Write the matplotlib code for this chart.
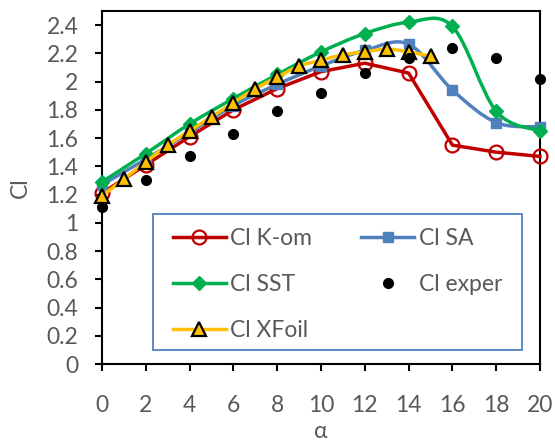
import numpy as np
import matplotlib
matplotlib.use('Agg')
import matplotlib.pyplot as plt
from matplotlib.path import Path
from matplotlib.patches import PathPatch, Rectangle
from matplotlib.lines import Line2D

plt.rcParams['font.family'] = ['Lato', 'DejaVu Sans']

# lift coefficient vs angle of attack
alpha = [0, 2, 4, 6, 8, 10, 12, 14, 16, 18, 20]
cl_kom = [1.21, 1.41, 1.61, 1.80, 1.95, 2.07, 2.13, 2.06, 1.55, 1.50, 1.47]
cl_sa = [1.27, 1.45, 1.64, 1.83, 1.98, 2.11, 2.22, 2.265, 1.94, 1.71, 1.68]
cl_sst = [1.29, 1.49, 1.70, 1.88, 2.05, 2.21, 2.34, 2.42, 2.39, 1.79, 1.65]
cl_exp = [1.11, 1.30, 1.47, 1.63, 1.79, 1.92, 2.06, 2.17, 2.24, 2.17, 2.02]

alpha_xf = list(range(0, 16))
cl_xfoil = [1.19, 1.31, 1.43, 1.55, 1.65, 1.75, 1.85, 1.95, 2.03, 2.11, 2.15,
            2.19, 2.21, 2.23, 2.21, 2.18]

grey = '#595959'


def smooth_path(x, y):
    # cubic bezier through every point, like a spreadsheet "smoothed line"
    x = np.asarray(x, float)
    y = np.asarray(y, float)
    pts = np.column_stack([x, y])
    n = len(pts)
    verts = [pts[0]]
    codes = [Path.MOVETO]
    for i in range(n - 1):
        p0 = pts[i - 1] if i > 0 else pts[i]
        p1 = pts[i]
        p2 = pts[i + 1]
        p3 = pts[i + 2] if i + 2 < n else pts[i + 1]
        c1 = p1 + (p2 - p0) / 6.0
        c2 = p2 - (p3 - p1) / 6.0
        verts += [c1, c2, p2]
        codes += [Path.CURVE4] * 3
    return Path(verts, codes)


fig = plt.figure(figsize=(5.55, 4.43), dpi=100)
ax = fig.add_axes([0.1838, 0.1783, 0.7892, 0.797])

lw = 2.5
series = [
    (alpha, cl_kom, '#C00000', False, dict(marker='o', markersize=10, markerfacecolor='none',
                                           markeredgecolor='#C00000', markeredgewidth=1.6), 'Cl K-om'),
    (alpha, cl_sa, '#4F81BD', True, dict(marker='s', markersize=7.5, markerfacecolor='#4F81BD',
                                         markeredgecolor='#4F81BD'), 'Cl SA'),
    (alpha, cl_sst, '#00B050', True, dict(marker='D', markersize=7.5, markerfacecolor='#00B050',
                                          markeredgecolor='#00B050'), 'Cl SST'),
    (alpha_xf, cl_xfoil, '#FFC000', True, dict(marker='^', markersize=10.5, markerfacecolor='#FFC000',
                                               markeredgecolor='black', markeredgewidth=1.6), 'Cl XFoil'),
]

handles = {}
z = 3
for xs, ys, col, smooth, mk, lab in series:
    if smooth:
        patch = PathPatch(smooth_path(xs, ys), facecolor='none', edgecolor=col, lw=lw,
                          zorder=z, capstyle='round', joinstyle='round')
        ax.add_patch(patch)
        ax.plot(xs, ys, linestyle='none', zorder=z + 0.5, clip_on=False, **mk)
    else:
        ax.plot(xs, ys, color=col, lw=lw, zorder=z, solid_joinstyle='round',
                clip_on=False, **mk)
    handles[lab] = Line2D([], [], color=col, lw=lw, **mk)
    z += 1

ax.plot(alpha, cl_exp, linestyle='none', marker='o', markersize=7, color='black',
        zorder=z, clip_on=False)
handles['Cl exper'] = Line2D([], [], linestyle='none', marker='o', markersize=7, color='black')

ax.set_xlim(0, 20)
ax.set_ylim(0, 2.5)
ax.set_xticks(np.arange(0, 21, 2))
yt = np.arange(0, 2.41, 0.2)
ax.set_yticks(yt)
ax.set_yticklabels(['%g' % round(v, 1) for v in yt])

for spine in ax.spines.values():
    spine.set_color('black')
    spine.set_linewidth(1.5)
ax.tick_params(direction='out', length=5, width=1.5, color='black',
               labelcolor=grey, labelsize=16.5)
ax.tick_params(axis='x', pad=17)
ax.tick_params(axis='y', pad=12)

ax.set_xlabel('α', fontsize=16.5, color=grey, labelpad=4)
ax.set_ylabel('Cl', fontsize=16.5, color=grey, labelpad=11)

# legend box drawn separately so its padding can differ from the entry spacing
ax.add_patch(Rectangle((0.1164, 0.040), 0.8426, 0.385, transform=ax.transAxes,
                       facecolor='white', edgecolor='#4F81BD', lw=1.3, zorder=2))

order = ['Cl K-om', 'Cl SST', 'Cl XFoil', 'Cl SA', 'Cl exper']
leg = ax.legend([handles[k] for k in order], order, ncol=2, loc='upper left',
                bbox_to_anchor=(0.162, 0.386, 0.751, 0.0), mode='expand',
                borderaxespad=0, borderpad=0, frameon=False, fontsize=16.5,
                labelcolor=grey, handlelength=2.3, handletextpad=0.2,
                labelspacing=1.1, columnspacing=1.0)
leg.set_zorder(2.5)

fig.savefig('out.png', dpi=100)
